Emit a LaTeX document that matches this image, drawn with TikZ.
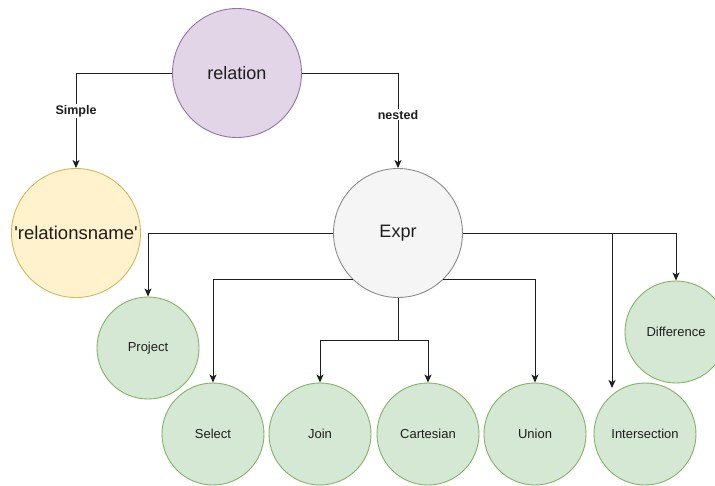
\documentclass[tikz,border=0pt]{standalone}
\usepackage{fontspec}
\setmainfont{Liberation Sans}
\usetikzlibrary{arrows.meta}

\definecolor{purpleFill}{HTML}{E1D5E7}
\definecolor{purpleLine}{HTML}{9673A6}
\definecolor{yellowFill}{HTML}{FFF2CC}
\definecolor{yellowLine}{HTML}{D6B656}
\definecolor{greyFill}{HTML}{F5F5F5}
\definecolor{greyLine}{HTML}{8C8C8C}
\definecolor{greenFill}{HTML}{D5E8D4}
\definecolor{greenLine}{HTML}{82B366}
\definecolor{ink}{HTML}{1E1E1E}

\tikzset{
  blob/.style={circle, draw, line width=0.9pt, inner sep=0pt, text=ink},
  bigblob/.style={blob, minimum size=129pt, font=\fontsize{18}{20}\selectfont},
  opnode/.style={blob, fill=greenFill, draw=greenLine, minimum size=102pt,
                 font=\fontsize{13}{15}\selectfont},
  link/.style={draw=ink, line width=1pt,
               -{Stealth[length=8pt, width=7pt, inset=2pt]}},
  plain/.style={draw=ink, line width=1pt},
  edgelabel/.style={fill=white, inner sep=1pt, text=ink,
                    font=\bfseries\fontsize{12.5}{14}\selectfont}
}

\begin{document}
\begin{tikzpicture}[x=1pt, y=-1pt]
  \useasboundingbox (0,0) rectangle (715,485);

  % upper part
  \node[bigblob, fill=purpleFill, draw=purpleLine] (rel) at (237,73) {relation};
  \node[bigblob, fill=yellowFill, draw=yellowLine,
        font=\fontsize{18.5}{20}\selectfont] (rname) at (76,233)
        {\textquotesingle relationsname\textquotesingle};
  \node[bigblob, fill=greyFill, draw=greyLine] (expr) at (398,233) {Expr};

  % operators
  \node[opnode] (proj)  at (148,348) {Project};
  \node[opnode] (sel)   at (213,434) {Select};
  \node[opnode] (join)  at (320,434) {Join};
  \node[opnode] (cart)  at (428,434) {Cartesian};
  \node[opnode] (uni)   at (535,434) {Union};
  \node[opnode] (inter) at (645,434) {Intersection};
  \node[opnode] (diff)  at (676,332) {Difference};

  % relation branches
  \draw[link] (rel.west) -| node[edgelabel, pos=0.7] {Simple} (rname.north);
  \draw[link] (rel.east) -| node[edgelabel, pos=0.72] {nested} (expr.north);

  % expression branches
  \draw[link] (expr.west) -| (proj.north);
  \draw[link] (expr.226) -| (sel.north);
  \coordinate (split) at (398,340);
  \draw[plain] (expr.south) -- (split);
  \draw[link] (split) -| (join.north);
  \draw[link] (split) -| (cart.north);
  \draw[link] (expr.314) -| (uni.north);
  \draw[link] (expr.east) -| (diff.north);
  \coordinate (intertip) at (612,388);
  \draw[link] (expr.east) -| (intertip);
\end{tikzpicture}
\end{document}
